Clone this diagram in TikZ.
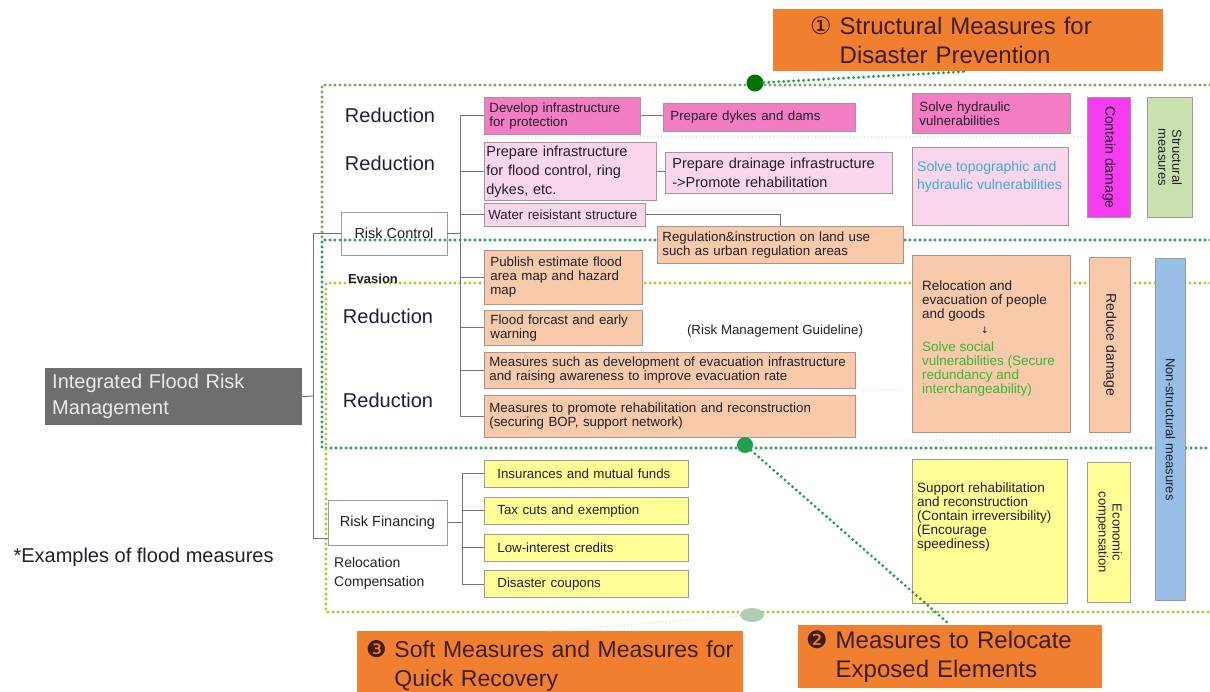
\documentclass[tikz,border=0pt]{standalone}
\usepackage{fontspec}
\setmainfont{Liberation Sans}
\newfontfamily\symfont{DejaVu Sans}
\usetikzlibrary{positioning,shapes.geometric}

\definecolor{pinkA}{RGB}{242,125,196}
\definecolor{pinkB}{RGB}{250,214,236}
\definecolor{magA}{RGB}{245,60,240}
\definecolor{greenA}{RGB}{200,225,175}
\definecolor{peach}{RGB}{248,202,170}
\definecolor{yellowA}{RGB}{255,255,150}
\definecolor{blueA}{RGB}{150,190,230}
\definecolor{orangeA}{RGB}{240,128,48}
\definecolor{greyA}{RGB}{110,110,110}
\definecolor{edgec}{RGB}{165,150,150}
\definecolor{wirec}{RGB}{115,115,125}
\definecolor{dkgreen}{RGB}{30,160,80}
\definecolor{ylgreen}{RGB}{170,200,50}
\definecolor{olgreen}{RGB}{120,165,90}
\definecolor{ink}{RGB}{35,30,40}
\definecolor{navy}{RGB}{30,30,60}
\definecolor{titleink}{RGB}{60,30,10}
\definecolor{skyt}{RGB}{60,170,230}
\definecolor{greent}{RGB}{50,185,60}

\begin{document}
\begin{tikzpicture}[x=1pt,y=-1pt,every node/.style={text=ink}]
		\tikzset{
			box/.style={draw=edgec, line width=0.8pt, anchor=north west, align=left,
					inner xsep=5pt, inner ysep=1pt, font=\fontsize{13.3}{14}\selectfont},
			ybox/.style={box, fill=yellowA, minimum width=204, minimum height=27,
					text width=178, inner xsep=13pt},
			ctrl/.style={draw=edgec, line width=0.8pt, font=\fontsize{14.5}{16}\selectfont},
			lbl/.style={text=navy, font=\fontsize{20}{22}\selectfont},
			toptext/.style={anchor=north west, align=left, inner sep=0pt,
					font=\fontsize{13.5}{14}\selectfont},
			rot/.style={rotate=-90, align=center, font=\fontsize{14}{15}\selectfont},
			ttl/.style={fill=orangeA, anchor=north west, align=left, text=titleink,
					font=\fontsize{24}{29}\selectfont},
			link/.style={draw=wirec, line width=1pt},
			dotA/.style={draw=olgreen, line width=3.2pt, line cap=round, dash pattern=on 0pt off 5pt},
			dotB/.style={dotA, draw=dkgreen},
			dotC/.style={dotA, draw=ylgreen},
			faint/.style={draw=black!22, line width=1.4pt, line cap=round, dash pattern=on 0pt off 3.5pt},
		}
		\useasboundingbox (0,0) rectangle (1210,691);
		% dotted frames
		\draw[dotA] (1210,85) -- (322,85) -- (322,240);
		\draw[dotB] (1210,240) -- (322,240) -- (322,448) -- (1210,448);
		\draw[dotC] (1210,283) -- (326,283) -- (326,612) -- (1210,612);
		\draw[faint] (490,137) -- (1135,137);
		\draw[faint] (860,390) -- (905,390);
		\draw[faint] (905,440) -- (1140,440);
		%
		\node[fill=greyA, anchor=north west, minimum width=257, minimum height=57, text width=243,
			inner xsep=7pt, align=left, text=white!92!black, font=\fontsize{20}{26}\selectfont]
			(ifrm) at (45,368) {Integrated Flood Risk\\Management};
		\node[anchor=west, font=\fontsize{20}{22}\selectfont] (ex) at (10,557) {*Examples of flood measures};
		\node[ctrl, minimum width=106, minimum height=43] (rc) at (394,233.5) {Risk Control};
		\node[ctrl, minimum width=119, minimum height=45] (rf) at (387.5,522.5) {Risk Financing};
		\node[lbl] (re1) at (390,115) {Reduction};
		\node[lbl] (re2) at (390,163) {Reduction};
		\node[font=\fontsize{13}{14}\selectfont\bfseries] (ev) at (373,279) {Evasion};
		\node[lbl] (re3) at (388,316) {Reduction};
		\node[lbl] (re4) at (388,400) {Reduction};
		\node[anchor=north west, align=left, inner sep=0pt, font=\fontsize{14}{19}\selectfont]
			(rcomp) at (334,557) {Relocation\\Compensation};
		\node[font=\fontsize{13.3}{14}\selectfont] (rmg) at (775,331) {(Risk Management Guideline)};
		% structural boxes
		\node[box, fill=pinkA, minimum width=156, minimum height=37, text width=146]
			(d1) at (484,97) {Develop infrastructure\\for protection};
		\node[box, fill=pinkA, minimum width=192, minimum height=28, text width=178, inner xsep=7pt]
			(d2) at (663,103) {Prepare dykes and dams};
		\node[box, fill=pinkB, minimum width=172, minimum height=58, text width=168, inner xsep=2pt,
			font=\fontsize{14.5}{19}\selectfont]
			(d3) at (484,142) {Prepare infrastructure\\for flood control, ring\\dykes, etc.};
		\node[box, fill=pinkB, minimum width=227, minimum height=41, text width=213, inner xsep=7pt,
			font=\fontsize{14.5}{19}\selectfont]
			(d4) at (665,152) {Prepare drainage infrastructure\\->Promote rehabilitation};
		\node[box, fill=pinkB, minimum width=161, minimum height=23, text width=153, inner xsep=4pt]
			(d5) at (484,203) {Water reisistant structure};
		% soft boxes
		\node[box, fill=peach, minimum width=246, minimum height=37, text width=236]
			(r1) at (657,226) {Regulation\&instruction on land use\\such as urban regulation areas};
		\node[box, fill=peach, minimum width=158, minimum height=54, text width=146, inner xsep=6pt]
			(p1) at (484,250) {Publish estimate flood\\area map and hazard\\map};
		\node[box, fill=peach, minimum width=158, minimum height=35, text width=146, inner xsep=6pt]
			(p2) at (484,310) {Flood forcast and early\\warning};
		\node[box, fill=peach, minimum width=371, minimum height=36, text width=361]
			(p3) at (484,352) {Measures such as development of evacuation infrastructure\\and raising awareness to improve evacuation rate};
		\node[box, fill=peach, minimum width=371, minimum height=42, text width=361]
			(p4) at (484,395) {Measures to promote rehabilitation and reconstruction\\(securing BOP, support network)};
		% financing boxes
		\node[ybox] (y1) at (484,460) {Insurances and mutual funds};
		\node[ybox, below=9pt of y1] (y2) {Tax cuts and exemption};
		\node[ybox, below=9pt of y2] (y3) {Low-interest credits};
		\node[ybox, below=9pt of y3] (y4) {Disaster coupons};
		% right column
		\node[box, fill=pinkA, minimum width=158, minimum height=40, text width=144, inner xsep=7pt]
			(s1) at (912,93) {Solve hydraulic\\vulnerabilities};
		\node[box, fill=pinkB, minimum width=156, minimum height=78] (s2) at (912,147) {};
		\node[toptext, text=skyt, font=\fontsize{14}{18}\selectfont]
			(s2t) at (917,161) {Solve topographic and\\hydraulic vulnerabilities};
		\node[box, fill=magA, minimum width=43, minimum height=120] (cd) at (1087,97) {};
		\node[rot] (cdt) at (cd.center) {Contain damage};
		\node[box, fill=greenA, minimum width=45, minimum height=120] (sm) at (1147,97) {};
		\node[rot, font=\fontsize{13}{14}\selectfont] (smt) at (sm.center) {Structural\\measures};
		\node[box, fill=peach, minimum width=158, minimum height=177] (s3) at (912,255) {};
		\node[toptext] (s3a) at (922,281) {Relocation and\\evacuation of people\\and goods};
		\node[font=\symfont\fontsize{9}{9}\selectfont] (s3b) at (985,330) {↓};
		\node[toptext, text=greent] (s3c) at (922,342)
			{Solve social\\vulnerabilities (Secure\\redundancy and\\interchangeability)};
		\node[box, fill=peach, minimum width=41, minimum height=175] (rd) at (1089,257) {};
		\node[rot] (rdt) at (rd.center) {Reduce damage};
		\node[box, fill=blueA, minimum width=30, minimum height=342] (ns) at (1155,258) {};
		\node[rot, font=\fontsize{13}{14}\selectfont] (nst) at (ns.center) {Non-structural measures};
		\node[box, fill=yellowA, minimum width=155, minimum height=144] (s4) at (912,459) {};
		\node[toptext] (s4t) at (917,483)
			{Support rehabilitation\\and reconstruction\\(Contain irreversibility)\\(Encourage\\speediness)};
		\node[box, fill=yellowA, minimum width=43, minimum height=140] (ec) at (1087,462) {};
		\node[rot, font=\fontsize{13}{14}\selectfont] (ect) at (ec.center) {Economic\\compensation};
		% tree lines
		\coordinate (tk) at (313,396);
		\coordinate (bc) at (460,233.5);
		\coordinate (fc) at (462,522.5);
		\draw[link] (ifrm.east) -- (tk);
		\draw[link] (rc.west) -| (tk);
		\draw[link] ([yshift=-16pt]rf.west) -| (tk);
		\draw[link] (rc.east) -- (bc);
		\foreach \b in {d1,d3,d5,p1,p2,p3,p4}
			\draw[link] (bc) |- (\b.west);
		\draw[link] (rf.east) -- (fc);
		\foreach \b in {y1,y2,y3,y4}
			\draw[link] (fc) |- (\b.west);
		\draw[link] (d1.east) -- (d1.east -| d2.west);
		\draw[link] (d3.east) -- (d3.east -| d4.west);
		\draw[link] (d5.east) -| (r1.north);
		% callouts
		\node[ttl, minimum width=390, minimum height=62, inner xsep=37pt, text width=316]
			(t1) at (773,9) {{\symfont ①}\ Structural Measures for\\\hphantom{{\symfont ①}\ }Disaster Prevention};
		\node[ttl, minimum width=304, minimum height=63, inner xsep=8pt, text width=288]
			(t2) at (798,625) {{\symfont ❷}\ Measures to Relocate\\\hphantom{{\symfont ❷}\ }Exposed Elements};
		\node[ttl, font=\fontsize{23}{29}\selectfont, minimum width=386, minimum height=70,
			inner xsep=9pt, text width=368]
			(t3) at (357,631) {{\symfont ❸}\ Soft Measures and Measures for\\\hphantom{{\symfont ❸}\ }Quick Recovery};
		\node[circle, fill=green!45!black, minimum size=17, inner sep=0pt] (c1) at (755,83) {};
		\node[circle, fill=dkgreen, minimum size=16, inner sep=0pt] (c2) at (745,445) {};
		\node[ellipse, fill=green!35!black!30!white, minimum width=24, minimum height=14, inner sep=0pt]
			(c3) at (752,615) {};
		\draw[dotB] (c1) -- (t1.south);
		\draw[dotB] (c2) -- (t2.north);
		\draw[faint, draw=ylgreen!50] (c3) -- (t3.north);
\end{tikzpicture}
\end{document}
